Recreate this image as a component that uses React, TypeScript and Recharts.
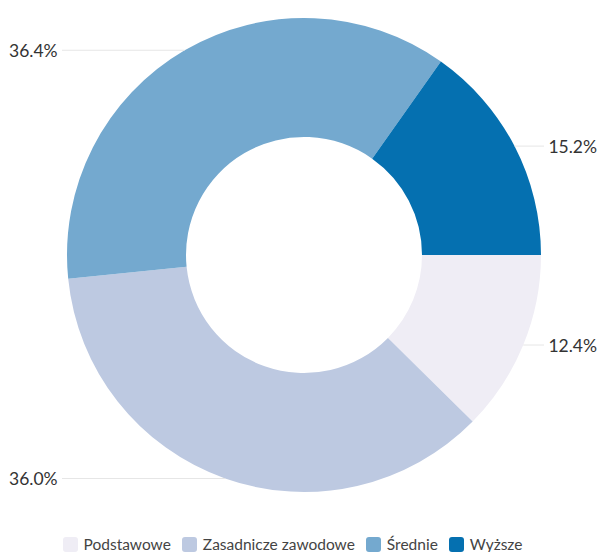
import React from "react";
import { PieChart, Pie, Cell, Legend } from "recharts";

const categories = ["Podstawowe", "Zasadnicze zawodowe", "Średnie", "Wyższe"];
const shares = [12.4, 36.0, 36.4, 15.2];
const colors = ["#efedf5", "#bdc9e1", "#74a9cf", "#0570b0"];

const data = categories.map((name, i) => ({ name, value: shares[i] }));

const W = 600;
const H = 552;
const RADIAN = Math.PI / 180;
const FONT = "Lato, 'Noto Sans', sans-serif";

function renderLabel(props: any) {
  const { cx, cy, midAngle, outerRadius, value } = props;
  const px = cx + outerRadius * Math.cos(-midAngle * RADIAN);
  const py = cy + outerRadius * Math.sin(-midAngle * RADIAN);
  const right = px > cx;
  const textX = right ? W - 3 : 9;
  const lineEnd = right ? W - 56 : 62;
  return (
    <g>
      <line x1={px} y1={py} x2={lineEnd} y2={py} stroke="#e6e6e6" strokeWidth={1} />
      <text
        x={textX}
        y={py}
        textAnchor={right ? "end" : "start"}
        dominantBaseline="central"
        fill="#333"
        fontSize={17.5}
        fontFamily={FONT}
      >
        {Number(value).toFixed(1)}%
      </text>
    </g>
  );
}

function LegendContent() {
  return (
    <div
      style={{
        display: "flex",
        justifyContent: "center",
        alignItems: "center",
        gap: 11,
        fontFamily: FONT,
        fontSize: 15.5,
        lineHeight: "18px",
        color: "#444",
        paddingRight: 15,
      }}
    >
      {categories.map((c, i) => (
        <div key={c} style={{ display: "flex", alignItems: "center", gap: 6 }}>
          <span
            style={{
              display: "inline-block",
              width: 15,
              height: 15,
              borderRadius: 3,
              background: colors[i],
            }}
          />
          <span>{c}</span>
        </div>
      ))}
    </div>
  );
}

export default function App() {
  return (
    <div style={{ position: "absolute", left: 0, top: 0, width: W, height: H, background: "#fff" }}>
      <PieChart width={W} height={H} margin={{ top: 0, right: 0, bottom: 0, left: 0 }}>
        <Pie
          data={data}
          dataKey="value"
          nameKey="name"
          cx={304}
          cy={255}
          innerRadius={118}
          outerRadius={237}
          startAngle={0}
          endAngle={-360}
          stroke="none"
          label={renderLabel}
          labelLine={false}
          isAnimationActive={false}
        >
          {data.map((d, i) => (
            <Cell key={d.name} fill={colors[i]} />
          ))}
        </Pie>
        <Legend
          verticalAlign="bottom"
          content={<LegendContent />}
          wrapperStyle={{ bottom: -1, left: 0, width: W, height: 18 }}
        />
      </PieChart>
    </div>
  );
}
